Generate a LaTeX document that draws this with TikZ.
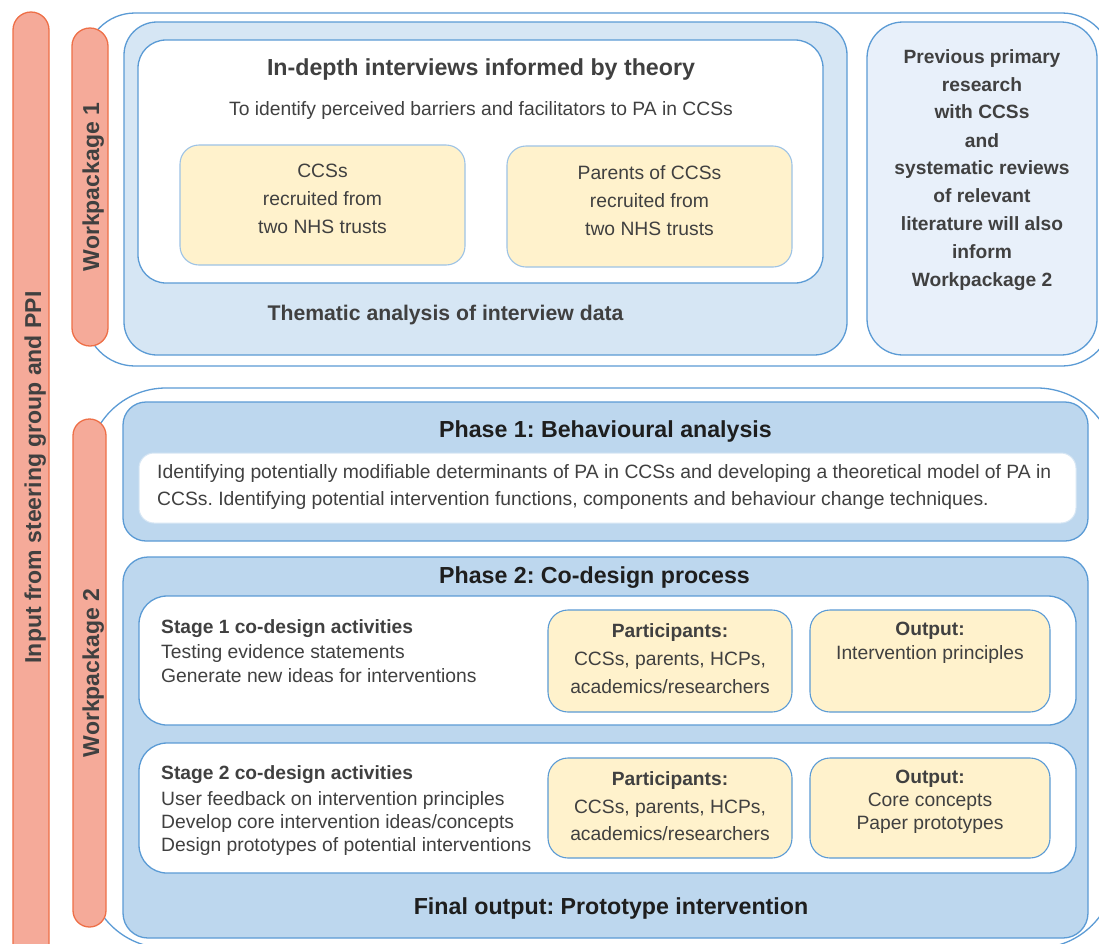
\documentclass[tikz,border=0pt]{standalone}
\usepackage{fontspec}
\setmainfont{Liberation Sans}
\frenchspacing
\definecolor{bstroke}{HTML}{5B9BD5}
\definecolor{lstroke}{HTML}{9DC3E6}
\definecolor{wpfill}{HTML}{D6E6F4}
\definecolor{rfill}{HTML}{E8F0FA}
\definecolor{phfill}{HTML}{BDD7EE}
\definecolor{yfill}{HTML}{FFF2CC}
\definecolor{pfill}{HTML}{F5AA99}
\definecolor{pstroke}{HTML}{EE6F47}
\definecolor{txt}{HTML}{404040}
\definecolor{dtxt}{HTML}{1E1E1E}
\newcommand\MyBox[7]{\node[#2, rounded corners=#7pt, minimum width={(#5-#3)*1pt}, minimum height={(#6-#4)*1pt}, inner sep=0pt] (#1) at ({(#3+#5)/2},{(#4+#6)/2}) {};}
\tikzset{
  outerbox/.style={draw=bstroke, fill=white, line width=1.3pt},
  pill/.style={draw=pstroke, fill=pfill, line width=1.3pt},
  bluebox/.style={draw=bstroke, fill=wpfill, line width=1.3pt},
  rightbox/.style={draw=bstroke, fill=rfill, line width=1.3pt},
  phasebox/.style={draw=bstroke, fill=phfill, line width=1.3pt},
  whitebox/.style={draw=bstroke, fill=white, line width=1.3pt},
  faintbox/.style={draw=wpfill, fill=white, line width=1pt},
  yelbox/.style={draw=lstroke, fill=yfill, line width=1.1pt},
  yelboxb/.style={draw=bstroke, fill=yfill, line width=1.1pt},
  t/.style={anchor=base, inner sep=0pt, text=txt, font=\fontsize{19.3}{19}\selectfont},
  tl/.style={t, anchor=base west},
  tb/.style={t, font=\bfseries\fontsize{19.2}{19}\selectfont},
  tbl/.style={tb, anchor=base west},
  tB/.style={t, text=dtxt, font=\bfseries\fontsize{23.2}{23}\selectfont},
  tW/.style={t, text=txt, font=\bfseries\fontsize{23.2}{23}\selectfont},
  rot/.style={t, rotate=90, text=txt, font=\bfseries\fontsize{23}{23}\selectfont},
}
\begin{document}
\begin{tikzpicture}[x=1pt,y=-1pt]
\useasboundingbox (0,0) rectangle (1099,943);
\clip (0,0) rectangle (1099,943);
\fill[white] (0,0) rectangle (1099,943);
% outer work package frames
\MyBox{wpAout}{outerbox}{85}{13}{1112}{366}{50}
\MyBox{wpBout}{outerbox}{88}{388}{1115}{948}{78}
% pills
\MyBox{inpill}{pill}{13}{12}{49}{962}{18}
\MyBox{wpApill}{pill}{72}{28}{108}{346}{18}
\MyBox{wpBpill}{pill}{73}{419}{106}{927}{16.5}
\node[rot] (inlab) at (41,477.5) {Input from steering group and PPI};
\node[rot] (wpAlab) at (99,187) {Workpackage 1};
\node[rot] (wpBlab) at (99,673) {Workpackage 2};
% Workpackage 1
\MyBox{wpAbg}{bluebox}{124}{22}{847}{355}{33}
\MyBox{wpAin}{whitebox}{138}{40}{823}{283}{28}
\MyBox{yA}{yelbox}{180}{145}{465}{265}{19}
\MyBox{yB}{yelbox}{507}{146}{792}{267}{19}
\MyBox{rbox}{rightbox}{867}{22}{1097}{355}{36}
\node[tW] (wpAtitle) at (481,75) {In-depth interviews informed by theory};
\node[t] (wpAsub) at (481,115) {To identify perceived barriers and facilitators to PA in CCSs};
\node[t] (yA1) at (322.5,177) {CCSs};
\node[t] (yA2) at (322.5,205) {recruited from};
\node[t] (yA3) at (322.5,233) {two NHS trusts};
\node[t] (yB1) at (649.5,179) {Parents of CCSs};
\node[t] (yB2) at (649.5,207) {recruited from};
\node[t] (yB3) at (649.5,235) {two NHS trusts};
\node[t, font=\bfseries\fontsize{21.2}{21}\selectfont] (thematic) at (445.5,320) {Thematic analysis of interview data};
\node[tb] (r1) at (982,63) {Previous primary};
\node[tb] (r2) at (982,91) {research};
\node[tb] (r3) at (982,118) {with CCSs};
\node[tb] (r4) at (982,147) {and};
\node[tb] (r5) at (982,174) {systematic reviews};
\node[tb] (r6) at (982,202) {of relevant};
\node[tb] (r7) at (982,230) {literature will also};
\node[tb] (r8) at (982,258) {inform};
\node[tb] (r9) at (982,286) {Workpackage 2};
% Workpackage 2 - Phase 1
\MyBox{phA}{phasebox}{123}{402}{1088}{541}{23}
\MyBox{phAin}{faintbox}{139}{453}{1076}{523}{15}
\node[tB] (phAtitle) at (605.5,437) {Phase 1: Behavioural analysis};
\node[tl] (phA1) at (157,478) {Identifying potentially modifiable determinants of PA in CCSs and developing a theoretical model of PA in};
\node[tl] (phA2) at (157,505) {CCSs. Identifying potential intervention functions, components and behaviour change techniques.};
% Phase 2
\MyBox{phB}{phasebox}{123}{557}{1088}{938}{25}
\node[tB] (phBtitle) at (594.5,583) {Phase 2: Co-design process};
\MyBox{stA}{whitebox}{139}{596}{1076}{725}{28}
\MyBox{pA}{yelboxb}{548}{610}{792}{712}{20}
\MyBox{oA}{yelboxb}{810}{610}{1050}{712}{20}
\MyBox{stB}{whitebox}{139}{743}{1076}{873}{28}
\MyBox{pB}{yelboxb}{548}{758}{792}{858}{20}
\MyBox{oB}{yelboxb}{810}{758}{1050}{858}{20}
\node[tbl] (stAt) at (161,633) {Stage 1 co-design activities};
\node[tl] (stA1) at (161,658) {Testing evidence statements};
\node[tl] (stA2) at (161,682) {Generate new ideas for interventions};
\node[tbl] (stBt) at (161,779) {Stage 2 co-design activities};
\node[tl] (stB1) at (161,805) {User feedback on intervention principles};
\node[tl] (stB2) at (161,828) {Develop core intervention ideas/concepts};
\node[tl] (stB3) at (161,851) {Design prototypes of potential interventions};
\node[tb] (pAt) at (670,637) {Participants:};
\node[t] (pA1) at (670,665) {CCSs, parents, HCPs,};
\node[t] (pA2) at (670,693) {academics/researchers};
\node[tb] (oAt) at (930,635) {Output:};
\node[t] (oA1) at (930,659) {Intervention principles};
\node[tb] (pBt) at (670,785) {Participants:};
\node[t] (pB1) at (670,813) {CCSs, parents, HCPs,};
\node[t] (pB2) at (670,840) {academics/researchers};
\node[tb] (oBt) at (930,783) {Output:};
\node[t] (oB1) at (930,806) {Core concepts};
\node[t] (oB2) at (930,829) {Paper prototypes};
\node[tB] (final) at (611,914) {Final output: Prototype intervention};
\end{tikzpicture}
\end{document}
